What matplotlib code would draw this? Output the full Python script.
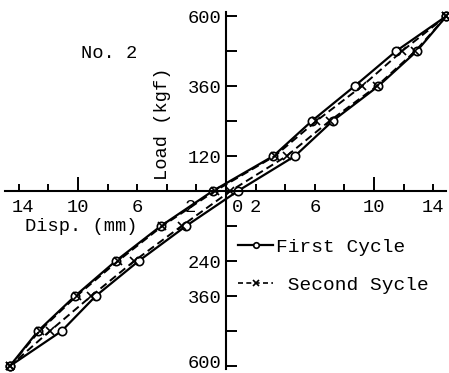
import matplotlib.pyplot as plt
import matplotlib.transforms as mtransforms
from matplotlib.lines import Line2D

plt.rcParams['font.family'] = ['Liberation Mono', 'DejaVu Sans Mono']

# load levels (kgf), negative = compression side
load_up = [-600, -480, -360, -240, -120, 0, 120, 240, 360, 480, 600]
load_dn = load_up[::-1]

# first cycle (solid, circles)
first_up = [-14.6, -12.7, -10.2, -7.45, -4.4, -0.9, 3.2, 5.8, 8.7, 11.5, 14.9]
first_dn = [14.9, 12.9, 10.3, 7.2, 4.66, 0.8, -2.7, -5.9, -8.8, -11.1, -14.6]

# second cycle (dashed, crosses)
second_up = [-14.6, -12.6, -10.1, -7.3, -4.3, -0.75, 3.3, 6.1, 9.2, 11.9, 14.9]
second_dn = [14.9, 12.8, 10.2, 7.0, 4.1, 0.3, -3.0, -6.2, -9.1, -11.9, -14.6]

xticks = [-14, -12, -10, -8, -6, -4, -2, 2, 4, 6, 8, 10, 12, 14]
xlabels = [-14, -10, -6, -2, 0, 2, 6, 10, 14]
yticks = [-600, -480, -360, -240, -120, 120, 240, 360, 480, 600]
ylabels = [-600, -360, -240, 120, 360, 600]

fs = 13.5
fig = plt.figure(figsize=(4.49, 3.73), dpi=100)
ax = fig.add_axes([0, 0, 1, 1])
ax.set_xlim(-15.27, 15.07)
ax.set_ylim(-624, 655)

for sp in ['top', 'right']:
    ax.spines[sp].set_visible(False)
ax.spines['left'].set_position(('data', 0))
ax.spines['bottom'].set_position(('data', 0))
ax.spines['left'].set_bounds(-610, 615)
ax.spines['bottom'].set_bounds(-14.9, 14.9)
ax.spines['left'].set_linewidth(1.5)
ax.spines['bottom'].set_linewidth(1.5)

# x ticks point up, the 10s are longer
ax.set_xticks([t for t in xticks if abs(t) != 10])
ax.set_xticks([-10, 10], minor=True)
ax.tick_params(axis='x', which='major', direction='in', length=5, width=1.4, labelbottom=False)
ax.tick_params(axis='x', which='minor', direction='in', length=10, width=1.4, labelbottom=False)
for v in xlabels:
    dx = 0.75 if v == 0 else (-0.4 if v == -2 else (0.3 if v == -14 else 0))
    ax.text(v + dx, -55, str(abs(v)), ha='center', va='center', fontsize=fs)

ax.set_yticks(yticks)
ax.set_yticklabels([str(abs(v)) if v in ylabels else '' for v in yticks])
ax.tick_params(axis='y', direction='in', length=8, width=1.4, pad=3, labelsize=fs)
# bottom label sits a little above its tick, as in the scan
lab = ax.get_yticklabels()[0]
lab.set_transform(lab.get_transform() + mtransforms.ScaledTranslation(0, 5 / 100, fig.dpi_scale_trans))

lw = 1.6
ax.plot(first_up, load_up, '-', color='black', lw=lw, marker='o', ms=6,
        mfc='white', mec='black', mew=1.2)
ax.plot(first_dn, load_dn, '-', color='black', lw=lw, marker='o', ms=6,
        mfc='white', mec='black', mew=1.2)
ax.plot(second_up, load_up, '--', color='black', lw=1.4, dashes=(4, 2.2),
        marker='x', ms=6, mew=1.2)
ax.plot(second_dn, load_dn, '--', color='black', lw=1.4, dashes=(4, 2.2),
        marker='x', ms=6, mew=1.2)

ax.text(-7.9, 473, 'No. 2', ha='center', va='center', fontsize=fs)
ax.text(-4.3, 230, 'Load (kgf)', ha='center', va='center', fontsize=fs, rotation=90)
ax.text(-9.8, -123, 'Disp. (mm)', ha='center', va='center', fontsize=fs)

handles = [
    Line2D([], [], color='black', lw=lw, marker='o', ms=4, mfc='white', mew=1.2),
    Line2D([], [], color='black', lw=1.2, ls='--', dashes=(3, 2), marker='x', ms=5, mew=1.2),
]
ax.legend(handles, ['First Cycle', ' Second Sycle'], loc='upper left',
          bbox_to_anchor=(238 / 449, 1 - 238 / 373), frameon=False, fontsize=14,
          borderpad=0, borderaxespad=0, handlelength=1.8, handletextpad=0.15,
          labelspacing=1.05)

fig.savefig('out.png', dpi=100)
